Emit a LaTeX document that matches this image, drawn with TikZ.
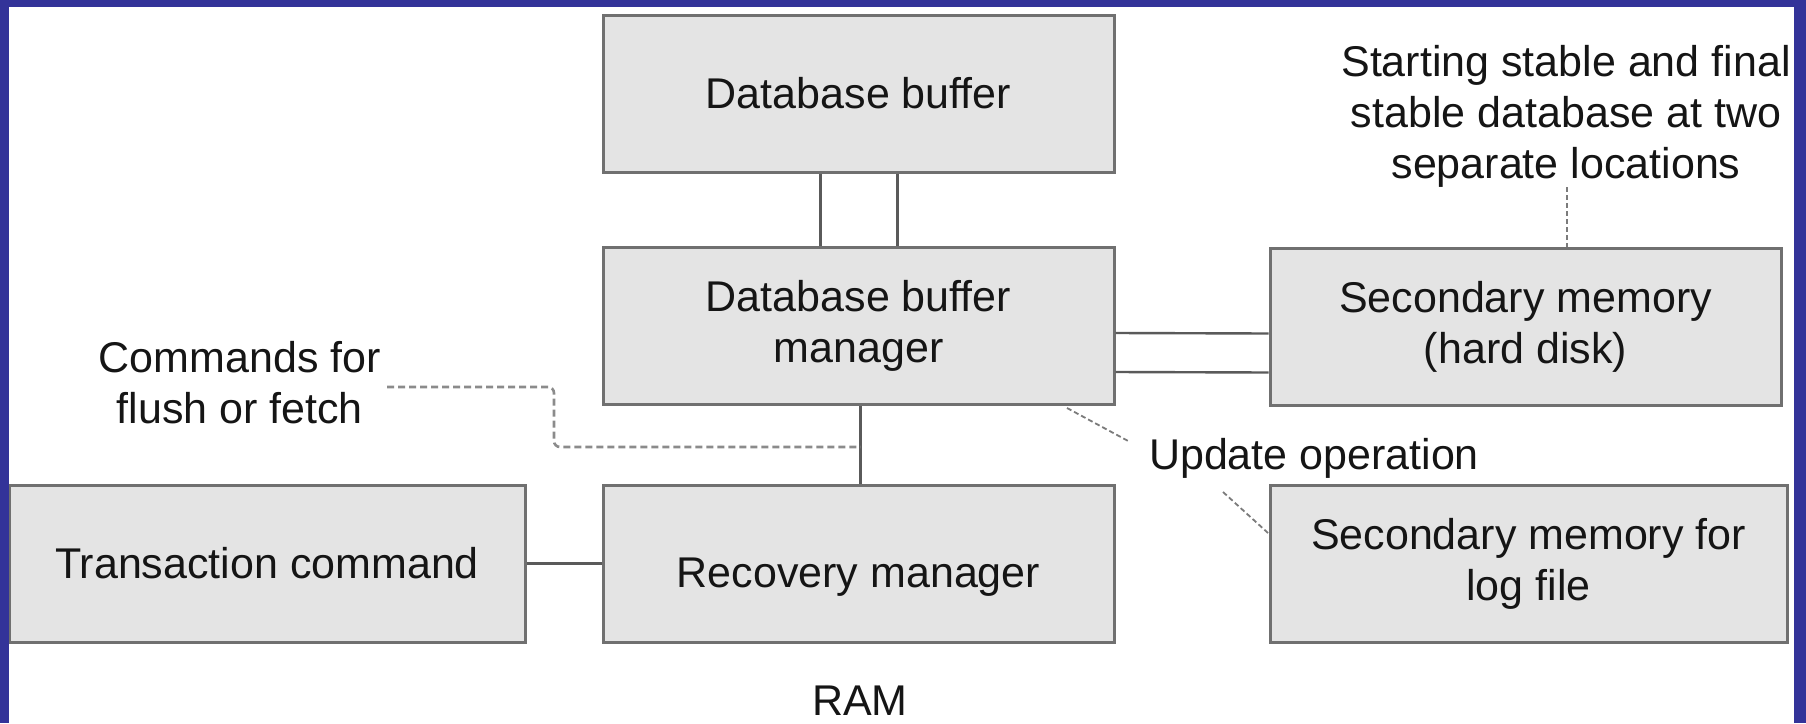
\documentclass[tikz,border=0pt]{standalone}
\usepackage{fontspec}
\setmainfont{Liberation Sans}
\definecolor{frameblue}{HTML}{333399}
\definecolor{boxfill}{HTML}{E4E4E4}
\definecolor{boxline}{HTML}{707070}
\definecolor{conn}{HTML}{5A5A5A}
\definecolor{ink}{HTML}{151515}
\begin{document}
\begin{tikzpicture}[x=1pt,y=-1pt,
  txt/.style={font=\fontsize{43}{51}\selectfont, text=ink, align=center, inner sep=0pt},
  blk/.style={txt, draw=boxline, fill=boxfill, line width=3pt, minimum width=511pt, minimum height=157pt},
  link/.style={draw=conn, line width=2.4pt},
  dlink/.style={draw=conn!70, line width=2.6pt, dash pattern=on 7pt off 4pt},
  thindash/.style={draw=conn!80, line width=1.8pt, dash pattern=on 5pt off 3pt}
]
\useasboundingbox (0,0) rectangle (1806,723);
\fill[white] (0,0) rectangle (1806,723);

% boxes
\node[blk] (buf) at (858.5,93.5) {Database buffer};
\node[blk] (mgr) at (858.5,326) {Database buffer\\manager};
\node[blk] (sec) at (1525.5,326.5) {Secondary memory\\(hard disk)};
\node[blk, minimum width=516pt, text height=30pt, text depth=0pt] (trans) at (267,563.5) {Transaction command};
\node[blk, text height=48pt, text depth=0pt] (rec) at (858.5,563.5) {Recovery manager};
\node[blk, minimum width=517pt] (log) at (1528.5,563.5) {Secondary memory for\\log file};

% free texts
\node[txt] (note) at (1566,116) {Starting stable and final\\stable database at two\\separate locations};
\node[txt, anchor=east] (cmd) at (381,383) {Commands for\\flush or fetch};
\node[txt] (upd) at (1314,458) {Update operation};
\node[txt, anchor=base] (ram) at (860,715) {RAM};

% solid connectors
\draw[link] ([xshift=-38pt]buf.south) -- ([xshift=-38pt]mgr.north);
\draw[link] ([xshift=39pt]buf.south) -- ([xshift=39pt]mgr.north);
\draw[link] ([yshift=-7pt]mgr.east) -- ([yshift=-7pt]sec.west);
\draw[link] ([yshift=-46pt]mgr.east) -- ([yshift=-46pt]sec.west);
\draw[link] ([xshift=2pt]mgr.south) -- ([xshift=2pt]rec.north);
\draw[link] (trans.east) -- (rec.west);

% dashed connectors
\coordinate (k0) at (387,387);
\coordinate (k1) at (554,387);
\coordinate (j1) at (860.5,447);
\draw[dlink, rounded corners=6pt] (k0) -- (k1) |- (j1);

\coordinate (n1) at (1567,187);
\draw[thindash] (n1) -- (n1 |- sec.north);

\coordinate (u0) at (1067,408);
\coordinate (u1) at (1130,442);
\coordinate (u2) at (1223,492);
\coordinate (u3) at (1268,533);
\draw[thindash] (u0) -- (u1);
\draw[thindash] (u2) -- (u3);

% blue frame
\fill[frameblue] (0,0) rectangle (1806,7);
\fill[frameblue] (0,0) rectangle (9,723);
\fill[frameblue] (1794,0) rectangle (1806,723);
\end{tikzpicture}
\end{document}
